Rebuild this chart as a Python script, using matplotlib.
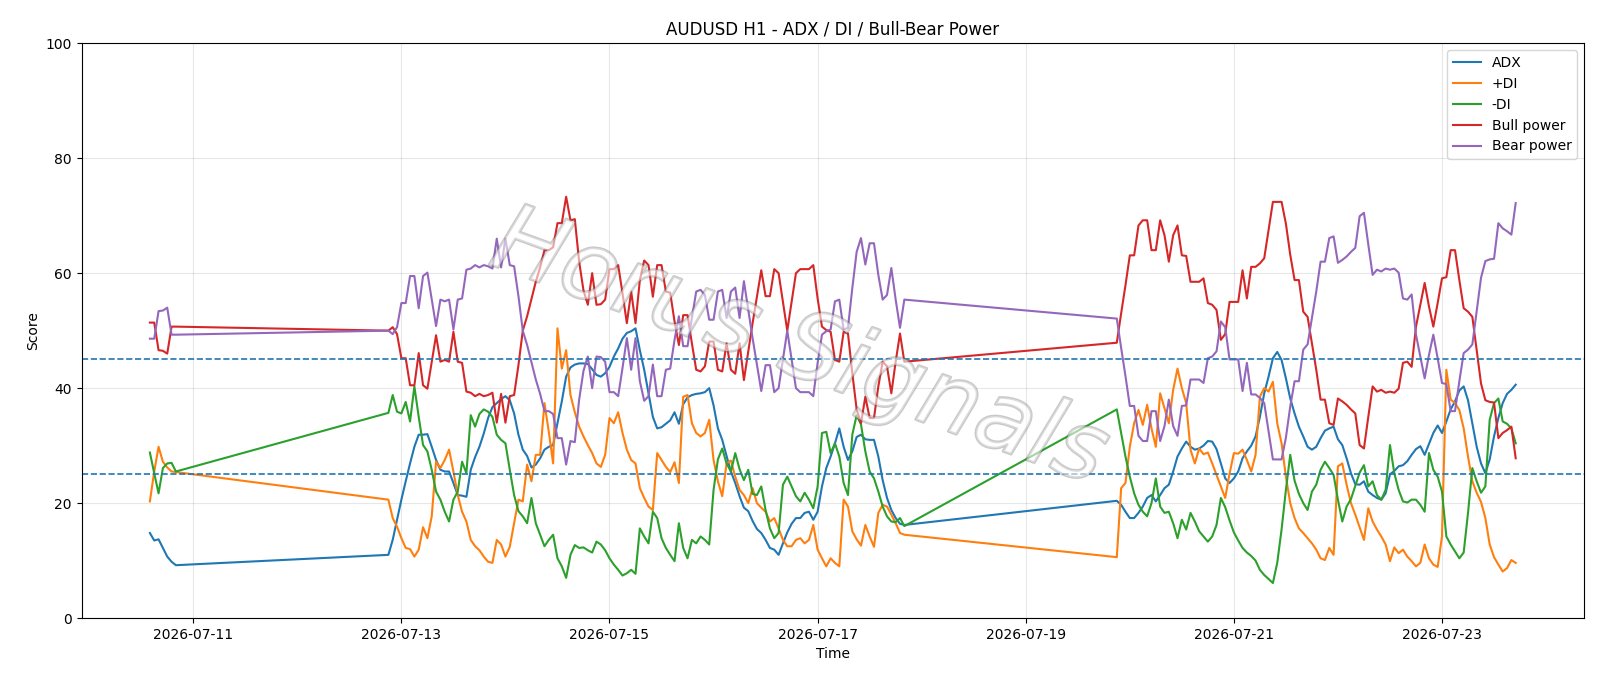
import numpy as np
import pandas as pd
import matplotlib
matplotlib.use("Agg")
import matplotlib.pyplot as plt
import matplotlib.dates as mdates
import matplotlib.patheffects as pe

# hourly bars, three trading blocks
segment_starts = ["2026-07-10 14:00", "2026-07-12 21:00", "2026-07-19 21:00"]
segment_lengths = [7, 120, 93]

adx = [
    14.8, 13.5, 13.7, 12.2, 10.7, 9.8, 9.2,
    11.0, 13.6, 17.1, 20.6, 23.8, 26.9, 29.8, 31.9, 31.9, 32.0,
    29.8, 27.5, 25.8, 25.5, 25.5, 23.5, 21.4, 21.3, 21.1, 25.8,
    28.0, 29.8, 32.1, 34.8, 36.7, 37.4, 38.1, 38.6, 37.9, 35.6,
    31.9, 29.3, 28.2, 26.2, 26.7, 27.8, 29.3, 29.8, 30.1, 33.9,
    37.7, 42.0, 43.6, 44.1, 44.3, 44.3, 44.2, 43.3, 42.3, 42.0,
    42.6, 43.7, 45.5, 46.9, 48.6, 49.6, 49.9, 50.4, 46.6, 43.2,
    39.1, 35.0, 33.0, 33.2, 33.8, 34.4, 35.8, 33.8, 37.2, 38.4,
    38.8, 39.0, 39.1, 39.3, 40.0, 37.0, 33.0, 31.0, 28.2, 25.5,
    23.5, 21.2, 19.2, 18.6, 16.9, 15.5, 14.8, 13.6, 12.2, 11.9,
    11.0, 13.0, 14.9, 16.4, 17.4, 17.4, 18.3, 18.5, 17.1, 18.5,
    22.9, 26.1, 28.1, 30.4, 33.0, 29.8, 27.5, 29.0, 31.5, 31.9,
    31.1, 31.0, 31.0, 28.1, 24.0, 20.9, 18.8, 17.4, 16.4, 16.2,
    20.4, 19.7, 18.5, 17.4, 17.4, 18.3, 19.4, 20.9, 21.4, 20.3,
    21.4, 22.6, 23.2, 25.5, 28.1, 29.5, 30.7, 29.8, 29.3, 29.5,
    30.0, 30.8, 30.7, 29.4, 26.9, 24.3, 23.5, 24.3, 25.5, 27.8,
    29.0, 30.0, 31.6, 35.0, 39.1, 42.0, 45.2, 46.3, 44.9, 41.7,
    38.2, 35.6, 33.3, 31.6, 29.8, 29.3, 29.8, 31.3, 32.6, 33.0,
    33.3, 31.1, 30.1, 27.8, 25.2, 23.3, 23.2, 23.8, 22.0, 21.4,
    20.9, 20.6, 21.7, 25.0, 25.6, 26.4, 26.6, 27.3, 28.4, 29.4,
    29.9, 28.4, 30.3, 32.2, 33.5, 32.2, 34.2, 36.3, 37.7, 39.6,
    40.3, 37.9, 33.9, 29.8, 26.9, 25.2, 27.6, 31.6, 34.8, 37.4,
    39.0, 39.7, 40.6,
]

plus_di = [
    20.3, 25.5, 29.8, 27.2, 26.2, 25.5, 25.4,
    20.6, 17.4, 15.9, 13.9, 12.2, 12.0, 10.7, 11.9, 15.8, 13.9,
    17.7, 27.2, 26.1, 27.5, 29.3, 25.5, 21.4, 18.5, 16.8, 13.6,
    12.5, 11.8, 10.7, 9.8, 9.6, 13.6, 12.8, 10.7, 12.4, 16.5,
    20.6, 20.3, 26.7, 23.8, 28.4, 28.4, 37.4, 32.4, 26.9, 50.4,
    43.4, 46.6, 38.8, 35.8, 33.3, 31.6, 30.1, 28.7, 26.9, 26.3,
    28.4, 34.8, 33.9, 35.8, 32.2, 29.3, 27.5, 26.9, 22.6, 20.9,
    19.4, 18.8, 28.7, 27.5, 26.3, 25.4, 27.1, 23.5, 38.5, 38.8,
    33.9, 32.2, 31.6, 32.2, 34.5, 27.5, 23.8, 21.2, 26.9, 27.4,
    24.6, 22.3, 21.4, 20.0, 22.6, 20.0, 19.2, 18.5, 16.8, 17.4,
    15.6, 13.6, 12.5, 12.5, 13.6, 13.9, 13.0, 13.6, 16.2, 11.9,
    10.4, 9.0, 10.4, 9.6, 9.0, 20.6, 19.4, 15.1, 13.7, 12.6,
    16.2, 14.2, 12.4, 18.3, 19.7, 19.4, 18.0, 16.5, 14.8, 14.5,
    10.6, 22.6, 23.5, 29.8, 33.9, 36.2, 33.6, 37.1, 33.0, 29.8,
    39.1, 36.5, 33.9, 39.7, 43.4, 40.0, 37.4, 29.3, 26.9, 29.5,
    28.5, 28.8, 26.9, 24.9, 22.9, 20.9, 25.1, 28.7, 28.6, 29.3,
    27.5, 25.5, 28.4, 38.5, 40.0, 39.4, 41.1, 33.9, 30.4, 24.6,
    20.0, 17.4, 15.6, 14.8, 13.9, 13.0, 11.9, 10.4, 10.1, 12.2,
    11.0, 26.4, 26.9, 23.2, 20.0, 18.0, 15.8, 13.6, 19.1, 16.8,
    15.4, 14.2, 12.8, 9.9, 12.3, 11.3, 11.9, 10.7, 9.9, 9.0,
    9.6, 12.8, 10.4, 9.3, 8.9, 14.2, 43.2, 38.0, 37.4, 36.2,
    33.0, 28.1, 23.8, 21.8, 20.2, 17.4, 12.8, 10.6, 9.3, 8.1,
    8.7, 10.1, 9.6,
]

minus_di = [
    28.8, 25.2, 21.7, 26.1, 26.9, 27.0, 25.5,
    35.7, 38.8, 35.9, 35.6, 37.6, 34.2, 40.3, 35.0, 30.1, 29.0,
    25.8, 22.0, 20.6, 18.5, 16.8, 20.6, 22.0, 27.2, 25.2, 35.3,
    33.3, 35.5, 36.3, 35.9, 35.0, 31.9, 31.0, 30.4, 25.8, 21.4,
    18.6, 17.7, 16.5, 20.9, 16.5, 14.5, 12.5, 13.6, 14.5, 10.4,
    9.0, 7.0, 11.0, 12.7, 12.2, 12.3, 11.8, 11.4, 13.3, 12.8,
    11.8, 10.4, 9.3, 8.4, 7.4, 7.8, 8.4, 7.7, 15.6, 14.2,
    13.0, 18.5, 17.4, 13.9, 12.2, 11.0, 9.9, 16.5, 12.2, 10.4,
    13.6, 13.0, 14.2, 13.6, 12.8, 22.3, 27.6, 29.5, 26.9, 25.5,
    28.7, 25.9, 24.0, 25.8, 21.6, 21.4, 22.9, 18.8, 15.6, 13.9,
    14.8, 23.2, 24.6, 22.9, 21.2, 20.3, 21.8, 20.6, 19.1, 22.9,
    32.2, 32.4, 28.7, 30.4, 28.1, 23.5, 21.4, 31.9, 35.3, 33.7,
    29.0, 25.5, 24.3, 22.0, 19.4, 17.7, 16.8, 16.7, 17.4, 16.0,
    36.3, 32.2, 28.1, 24.6, 21.7, 19.7, 18.5, 17.7, 20.0, 24.3,
    19.4, 18.3, 18.5, 16.5, 13.9, 17.1, 15.4, 18.3, 16.8, 15.1,
    14.2, 13.3, 14.2, 16.2, 20.9, 19.3, 17.0, 14.9, 13.5, 12.2,
    11.4, 10.8, 10.0, 8.4, 7.5, 6.8, 6.1, 9.6, 15.4, 22.3,
    28.4, 23.9, 21.6, 20.0, 18.8, 22.0, 23.2, 25.8, 27.2, 26.1,
    24.9, 20.6, 16.8, 19.4, 20.7, 23.0, 25.3, 26.6, 22.9, 23.8,
    21.4, 20.6, 22.3, 30.1, 25.2, 22.3, 20.3, 20.1, 20.6, 20.6,
    19.7, 18.5, 28.7, 25.8, 24.6, 22.0, 14.2, 12.8, 11.6, 10.4,
    11.4, 18.3, 26.1, 23.8, 21.8, 22.9, 34.5, 37.4, 38.2, 34.2,
    33.8, 33.0, 30.4,
]

bull_power = [
    51.4, 51.4, 46.6, 46.5, 46.0, 50.7, 50.7,
    50.0, 50.6, 49.4, 45.2, 45.2, 40.5, 40.5, 46.1, 40.5, 39.9,
    44.6, 49.2, 44.6, 44.9, 44.6, 49.8, 44.6, 44.4, 39.4, 39.2,
    38.6, 39.0, 38.6, 38.8, 39.2, 34.0, 39.0, 34.0, 38.6, 38.8,
    44.0, 50.0, 52.5, 55.5, 58.5, 61.0, 64.0, 64.0, 64.5, 68.7,
    68.7, 73.3, 69.2, 69.4, 62.0, 57.0, 54.5, 60.0, 54.5, 54.6,
    55.4, 60.7, 60.7, 61.4, 56.5, 51.3, 56.8, 51.3, 58.8, 62.2,
    61.4, 55.9, 61.4, 61.4, 56.8, 56.6, 51.6, 47.5, 52.7, 52.7,
    47.8, 43.2, 42.9, 43.8, 48.1, 48.1, 43.2, 42.9, 47.8, 43.2,
    42.5, 47.8, 41.4, 46.3, 51.3, 55.9, 60.5, 56.0, 56.0, 60.7,
    60.0, 55.0, 50.0, 55.0, 60.0, 60.7, 60.7, 60.7, 61.4, 55.6,
    50.7, 50.1, 49.8, 44.9, 44.6, 49.8, 49.5, 42.6, 36.3, 33.9,
    38.5, 34.8, 34.8, 40.3, 44.6, 43.8, 39.1, 44.6, 49.5, 44.6,
    47.9, 53.0, 57.9, 63.1, 63.1, 68.3, 69.2, 69.2, 64.0, 64.0,
    69.2, 66.6, 62.0, 66.6, 68.3, 63.1, 63.0, 58.5, 58.5, 58.5,
    59.1, 54.8, 54.5, 53.6, 48.4, 49.4, 55.0, 55.0, 55.0, 60.5,
    55.6, 61.1, 61.1, 61.7, 62.6, 67.5, 72.4, 72.4, 72.4, 68.6,
    63.2, 58.8, 58.8, 53.3, 52.4, 47.8, 43.2, 38.0, 38.0, 33.9,
    33.6, 38.2, 37.7, 37.1, 36.3, 35.6, 30.1, 29.5, 35.0, 40.3,
    39.4, 39.7, 39.2, 39.4, 39.2, 39.9, 44.4, 44.6, 43.7, 50.7,
    54.5, 58.3, 54.2, 50.7, 54.8, 59.1, 59.3, 64.0, 64.0, 58.8,
    53.9, 53.3, 52.4, 46.6, 40.8, 37.9, 37.6, 37.5, 31.3, 32.2,
    32.7, 33.3, 27.8,
]

bear_power = [
    48.6, 48.6, 53.4, 53.5, 54.0, 49.3, 49.3,
    50.0, 49.4, 50.6, 54.8, 54.8, 59.5, 59.5, 53.9, 59.5, 60.1,
    55.4, 50.8, 55.4, 55.1, 55.4, 50.2, 55.4, 55.6, 60.6, 60.8,
    61.4, 61.0, 61.4, 61.2, 60.8, 66.0, 61.0, 66.0, 61.4, 61.2,
    56.0, 50.0, 47.5, 44.5, 41.5, 39.0, 36.0, 36.0, 35.5, 31.3,
    31.3, 26.7, 30.8, 30.6, 38.0, 43.0, 45.5, 40.0, 45.5, 45.4,
    44.6, 39.3, 39.3, 38.6, 43.5, 48.7, 43.2, 48.7, 41.2, 37.8,
    38.6, 44.1, 38.6, 38.6, 43.2, 43.4, 48.4, 52.5, 47.3, 47.3,
    52.2, 56.8, 57.1, 56.2, 51.9, 51.9, 56.8, 57.1, 52.2, 56.8,
    57.5, 52.2, 58.6, 53.7, 48.7, 44.1, 39.5, 44.0, 44.0, 39.3,
    40.0, 45.0, 50.0, 45.0, 40.0, 39.3, 39.3, 39.3, 38.6, 44.4,
    49.3, 49.9, 50.2, 55.1, 55.4, 50.2, 50.5, 57.4, 63.7, 66.1,
    61.5, 65.2, 65.2, 59.7, 55.4, 56.2, 60.9, 55.4, 50.5, 55.4,
    52.1, 47.0, 42.1, 36.9, 36.9, 31.7, 30.8, 30.8, 36.0, 36.0,
    30.8, 33.4, 38.0, 33.4, 31.7, 36.9, 37.0, 41.5, 41.5, 41.5,
    40.9, 45.2, 45.5, 46.4, 51.6, 50.6, 45.0, 45.0, 45.0, 39.5,
    44.4, 38.9, 38.9, 38.3, 37.4, 32.5, 27.6, 27.6, 27.6, 31.4,
    36.8, 41.2, 41.2, 46.7, 47.6, 52.2, 56.8, 62.0, 62.0, 66.1,
    66.4, 61.8, 62.3, 62.9, 63.7, 64.4, 69.9, 70.5, 65.0, 59.7,
    60.6, 60.3, 60.8, 60.6, 60.8, 60.1, 55.6, 55.4, 56.3, 49.3,
    45.5, 41.7, 45.8, 49.3, 45.2, 40.9, 40.7, 36.0, 36.0, 41.2,
    46.1, 46.7, 47.6, 53.4, 59.2, 62.1, 62.4, 62.5, 68.7, 67.8,
    67.3, 66.7, 72.2,
]

levels = [25, 45]
series_labels = ["ADX", "+DI", "-DI", "Bull power", "Bear power"]
series_colors = ["#1f77b4", "#ff7f0e", "#2ca02c", "#d62728", "#9467bd"]

times = pd.DatetimeIndex(np.concatenate([
    pd.date_range(s, periods=n, freq="h").values
    for s, n in zip(segment_starts, segment_lengths)
]))

fig, ax = plt.subplots(figsize=(16, 6.86), dpi=100)
for vals, lab, col in zip([adx, plus_di, minus_di, bull_power, bear_power],
                          series_labels, series_colors):
    ax.plot(times, vals, label=lab, color=col, lw=1.5)

for lv in levels:
    ax.axhline(lv, ls="--", color="#1f77b4", lw=1.2)

ax.set_ylim(0, 100)
ax.set_title("AUDUSD H1 - ADX / DI / Bull-Bear Power", fontsize=12)
ax.set_xlabel("Time")
ax.set_ylabel("Score")
ax.grid(True, alpha=0.3)
ax.legend(loc="upper right")
ax.xaxis.set_major_locator(mdates.DayLocator(bymonthday=[11, 13, 15, 17, 19, 21, 23]))
ax.xaxis.set_major_formatter(mdates.DateFormatter("%Y-%m-%d"))

ax.text(0.478, 0.468, "Horus Signals", transform=ax.transAxes, fontsize=68,
        rotation=-20, ha="center", va="center", color="white", alpha=0.35,
        fontstyle="italic", fontweight="light",
        path_effects=[pe.withStroke(linewidth=2.0, foreground="#666666")],
        zorder=5)

fig.subplots_adjust(left=0.051, right=0.99, top=0.937, bottom=0.099)
fig.savefig("out.png", dpi=100)
